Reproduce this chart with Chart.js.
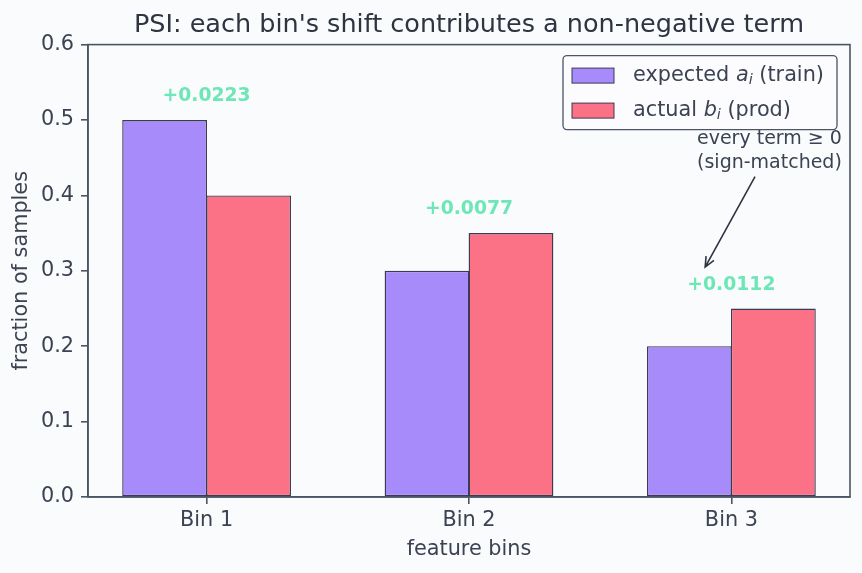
<!DOCTYPE html>
<html>
<head>
<meta charset="utf-8">
<script src="https://cdn.jsdelivr.net/npm/chart.js@4.4.1/dist/chart.umd.min.js"></script>
<style>
  html, body { margin: 0; padding: 0; background: #fafbfd; }
</style>
</head>
<body>
<canvas id="psiChart" width="862" height="573"></canvas>
<script>
// data
const bins = ['Bin 1', 'Bin 2', 'Bin 3'];
const expected = [0.50, 0.30, 0.20];   // a_i (train)
const actual = [0.40, 0.35, 0.25];     // b_i (prod)
const psiTerms = ['+0.0223', '+0.0077', '+0.0112'];
const yTicks = [0.0, 0.1, 0.2, 0.3, 0.4, 0.5, 0.6];

// note + arrow, in data coordinates
const noteLines = ['every term \u2265 0', '(sign-matched)'];
const noteAt = { x: 2.145, y: 0.459 };
const arrowFrom = { x: 2.09, y: 0.425 };
const arrowTo = { x: 1.90, y: 0.305 };

const FONT = '"DejaVu Sans", "Liberation Sans", sans-serif';
const textColor = '#3b4252';
const spineColor = '#4c5566';
const purple = '#a78bfa';
const red = '#fb7185';
const edge = '#3d3a55';
const green = '#6ee7b7';

const legendItems = [
    { color: purple, pre: 'expected ', sym: 'a', sub: 'i', post: ' (train)' },
    { color: red, pre: 'actual ', sym: 'b', sub: 'i', post: ' (prod)' }
];

function drawArrow(ctx, x1, y1, x2, y2) {
    const ang = Math.atan2(y2 - y1, x2 - x1);
    const len = 11, spread = 0.42;
    ctx.beginPath();
    ctx.moveTo(x1, y1);
    ctx.lineTo(x2, y2);
    ctx.moveTo(x2 - len * Math.cos(ang - spread), y2 - len * Math.sin(ang - spread));
    ctx.lineTo(x2, y2);
    ctx.lineTo(x2 - len * Math.cos(ang + spread), y2 - len * Math.sin(ang + spread));
    ctx.stroke();
}

function drawLegend(ctx, area) {
    const w = 274, h = 74;
    const left = area.right - 287, top = area.top + 11;
    ctx.beginPath();
    ctx.roundRect(left, top, w, h, 4);
    ctx.fillStyle = 'rgba(252,252,254,0.85)';
    ctx.fill();
    ctx.strokeStyle = spineColor;
    ctx.lineWidth = 1.3;
    ctx.stroke();

    legendItems.forEach((item, i) => {
        const cy = top + 20 + i * 35;
        ctx.fillStyle = item.color;
        ctx.fillRect(left + 9, cy - 7.5, 42, 15);
        ctx.strokeStyle = edge;
        ctx.lineWidth = 1;
        ctx.strokeRect(left + 9, cy - 7.5, 42, 15);

        ctx.fillStyle = textColor;
        ctx.textAlign = 'left';
        ctx.textBaseline = 'middle';
        let x = left + 70;
        ctx.font = '20.8px ' + FONT;
        ctx.fillText(item.pre, x, cy);
        x += ctx.measureText(item.pre).width;
        ctx.font = 'italic 20.8px ' + FONT;
        ctx.fillText(item.sym, x, cy);
        x += ctx.measureText(item.sym).width;
        ctx.font = 'italic 14.5px ' + FONT;
        ctx.fillText(item.sub, x, cy + 5);
        x += ctx.measureText(item.sub).width;
        ctx.font = '20.8px ' + FONT;
        ctx.fillText(item.post, x, cy);
    });
}

const overlayPlugin = {
    id: 'overlay',
    beforeDraw(chart) {
        const ctx = chart.ctx;
        ctx.save();
        ctx.fillStyle = '#fafbfd';
        ctx.fillRect(0, 0, chart.width, chart.height);
        ctx.restore();
    },
    afterDatasetsDraw(chart) {
        const { ctx, chartArea: area, scales: { x, y } } = chart;
        ctx.save();

        // full frame (matplotlib-style spines)
        ctx.strokeStyle = spineColor;
        ctx.lineWidth = 1.6;
        ctx.strokeRect(area.left, area.top, area.right - area.left, area.bottom - area.top);

        // psi term labels above each pair of bars
        ctx.font = 'bold 18.75px ' + FONT;
        ctx.fillStyle = green;
        ctx.textAlign = 'center';
        ctx.textBaseline = 'alphabetic';
        bins.forEach((b, i) => {
            const top = Math.max(expected[i], actual[i]);
            ctx.fillText(psiTerms[i], x.getPixelForValue(i), y.getPixelForValue(top + 0.025));
        });

        // note with arrow
        ctx.font = '19px ' + FONT;
        ctx.fillStyle = textColor;
        ctx.textBaseline = 'middle';
        const nx = x.getPixelForValue(noteAt.x), ny = y.getPixelForValue(noteAt.y);
        ctx.fillText(noteLines[0], nx, ny - 12);
        ctx.fillText(noteLines[1], nx, ny + 12);
        ctx.strokeStyle = '#2e3440';
        ctx.lineWidth = 1.6;
        drawArrow(ctx,
            x.getPixelForValue(arrowFrom.x), y.getPixelForValue(arrowFrom.y),
            x.getPixelForValue(arrowTo.x), y.getPixelForValue(arrowTo.y));

        drawLegend(ctx, area);
        ctx.restore();
    }
};

const ctx = document.getElementById('psiChart').getContext('2d');
const psiChart = new Chart(ctx, {
    type: 'bar',
    data: {
        datasets: [
            {
                label: 'expected a_i (train)',
                data: bins.map((b, i) => ({ x: i, y: expected[i] })),
                backgroundColor: purple,
                borderColor: edge,
                borderWidth: 1.4,
                borderSkipped: false
            },
            {
                label: 'actual b_i (prod)',
                data: bins.map((b, i) => ({ x: i, y: actual[i] })),
                backgroundColor: red,
                borderColor: edge,
                borderWidth: 1.4,
                borderSkipped: false
            }
        ]
    },
    options: {
        responsive: false,
        animation: false,
        devicePixelRatio: 1,
        categoryPercentage: 0.64,
        barPercentage: 1.01,
        layout: { padding: { left: 0, right: 12, top: 0, bottom: 0 } },
        scales: {
            x: {
                type: 'linear',
                min: -0.452,
                max: 2.452,
                offset: false,
                grid: { drawOnChartArea: false, offset: false, tickLength: 7, color: spineColor, lineWidth: 1.6 },
                border: { display: true, color: spineColor, width: 1.6 },
                afterBuildTicks: (scale) => { scale.ticks = bins.map((b, i) => ({ value: i })); },
                afterFit: (scale) => { scale.height = 76; },
                ticks: {
                    color: textColor,
                    font: { family: FONT, size: 20.8 },
                    padding: 4,
                    maxRotation: 0,
                    autoSkip: false,
                    callback: (v) => bins[v]
                },
                title: {
                    display: true,
                    text: 'feature bins',
                    color: textColor,
                    font: { family: FONT, size: 20.8 },
                    padding: { top: 0, bottom: 11 }
                }
            },
            y: {
                min: 0,
                max: 0.6,
                grid: { drawOnChartArea: false, tickLength: 7, color: spineColor, lineWidth: 1.6 },
                border: { display: true, color: spineColor, width: 1.6 },
                afterBuildTicks: (scale) => { scale.ticks = yTicks.map(v => ({ value: v })); },
                afterFit: (scale) => { scale.width = 88; },
                ticks: {
                    color: textColor,
                    font: { family: FONT, size: 20.8 },
                    padding: 7,
                    callback: (v) => Number(v).toFixed(1)
                },
                title: {
                    display: true,
                    text: 'fraction of samples',
                    color: textColor,
                    font: { family: FONT, size: 20.8 },
                    padding: { top: 9, bottom: 0 }
                }
            }
        },
        plugins: {
            legend: { display: false },
            tooltip: { enabled: false },
            title: {
                display: true,
                fullSize: false,
                text: "PSI: each bin's shift contributes a non-negative term",
                color: '#2e3440',
                font: { family: FONT, size: 25.5, weight: 'normal' },
                padding: { top: 10, bottom: 4 }
            }
        }
    },
    plugins: [overlayPlugin]
});
</script>
</body>
</html>
